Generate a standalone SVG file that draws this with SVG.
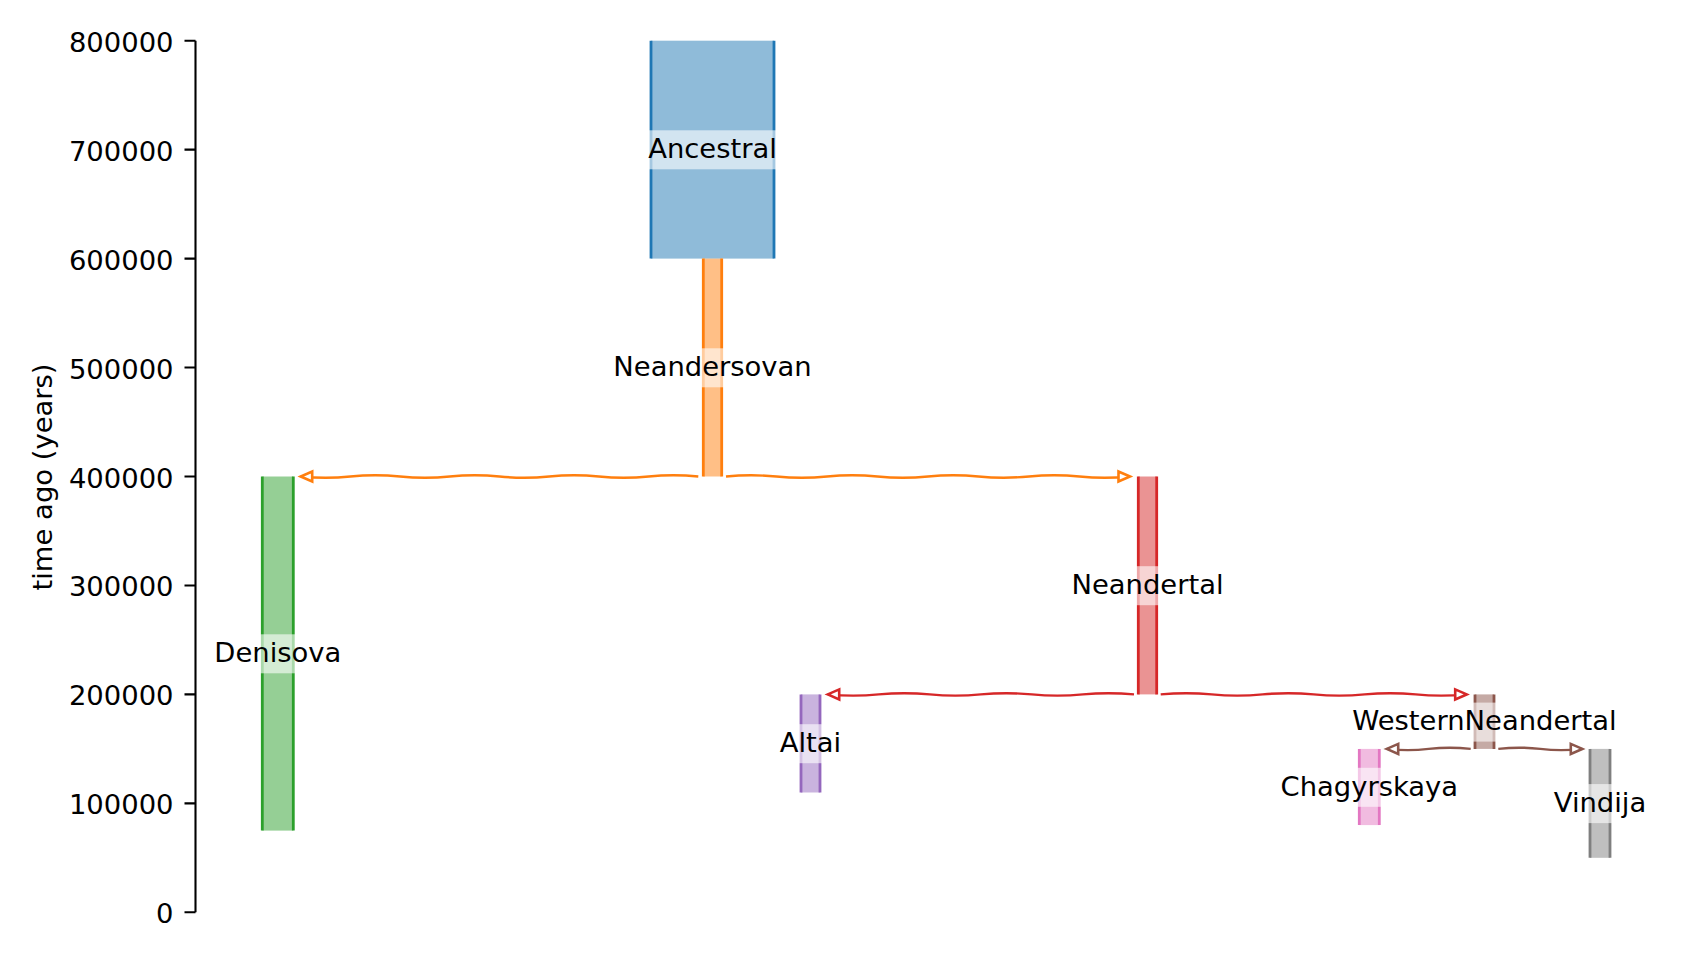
<svg xmlns="http://www.w3.org/2000/svg" width="1705" height="960" viewBox="0 0 1705 960">
<style>
text{font-family:"DejaVu Sans","Liberation Sans",sans-serif;font-size:27.4px;fill:#000}
.tl{text-anchor:end}
.lbl{text-anchor:middle}
.fill{fill-opacity:0.5;stroke:none}
.edge{stroke-width:2.8;fill:none}
.lbg{fill:#fff;fill-opacity:0.6;stroke:none}
.ax{stroke:#000;stroke-width:2.1;fill:none}
.conn{fill:none;stroke-width:2.4}
</style>
<defs>
<marker id="aO" markerUnits="userSpaceOnUse" viewBox="-15 -8 17 16" refX="0" refY="0" markerWidth="17" markerHeight="16" orient="auto" overflow="visible"><path d="M0 0 L-11.5 -5 L-11.5 5 Z" fill="#fff" stroke="#ff7f0e" stroke-width="2.6"/></marker>
<marker id="aR" markerUnits="userSpaceOnUse" viewBox="-15 -8 17 16" refX="0" refY="0" markerWidth="17" markerHeight="16" orient="auto" overflow="visible"><path d="M0 0 L-11.5 -5 L-11.5 5 Z" fill="#fff" stroke="#d62728" stroke-width="2.6"/></marker>
<marker id="aB" markerUnits="userSpaceOnUse" viewBox="-15 -8 17 16" refX="0" refY="0" markerWidth="17" markerHeight="16" orient="auto" overflow="visible"><path d="M0 0 L-11.5 -5 L-11.5 5 Z" fill="#fff" stroke="#8c564b" stroke-width="2.6"/></marker>
</defs>
<rect width="1705" height="960" fill="#fff"/>
<g id="axis">
<line class="ax" x1="195.5" y1="40.7" x2="195.5" y2="912.3"/>
<path class="ax" d="M184.5 40.7H195.5M184.5 149.65H195.5M184.5 258.6H195.5M184.5 367.55H195.5M184.5 476.5H195.5M184.5 585.45H195.5M184.5 694.4H195.5M184.5 803.35H195.5M184.5 912.3H195.5"/>
<text class="tl" x="173.5" y="51.7">800000</text>
<text class="tl" x="173.5" y="160.65">700000</text>
<text class="tl" x="173.5" y="269.6">600000</text>
<text class="tl" x="173.5" y="378.55">500000</text>
<text class="tl" x="173.5" y="487.5">400000</text>
<text class="tl" x="173.5" y="596.45">300000</text>
<text class="tl" x="173.5" y="705.4">200000</text>
<text class="tl" x="173.5" y="814.35">100000</text>
<text class="tl" x="173.5" y="923.3">0</text>
<text class="lbl" transform="translate(51.5,477) rotate(-90)">time ago (years)</text>
</g>
<g id="connectors">
<path class="conn" stroke="#ff7f0e" marker-end="url(#aO)" d="M698.3 476.5 Q673.45 474.1 648.6 476.5 T598.9 476.5 T549.2 476.5 T499.5 476.5 T449.8 476.5 T400.1 476.5 T350.4 476.5 T300.8 476.5 L300.7 476.5"/>
<path class="conn" stroke="#ff7f0e" marker-end="url(#aO)" d="M726 476.5 Q751.25 474.1 776.5 476.5 T827 476.5 T877.5 476.5 T928 476.5 T978.5 476.5 T1029 476.5 T1079.5 476.5 T1129.9 476.5 L1130 476.5"/>
<path class="conn" stroke="#d62728" marker-end="url(#aR)" d="M1134 694.4 Q1108.5 692 1082.95 694.4 T1031.9 694.4 T980.85 694.4 T929.8 694.4 T878.75 694.4 T827.8 694.4 L827.7 694.4"/>
<path class="conn" stroke="#d62728" marker-end="url(#aR)" d="M1160.7 694.4 Q1186.2 692 1211.7 694.4 T1262.7 694.4 T1313.7 694.4 T1364.7 694.4 T1415.7 694.4 T1466.6 694.4 L1466.7 694.4"/>
<path class="conn" stroke="#8c564b" marker-end="url(#aB)" d="M1470.7 748.9 Q1449.7 746.5 1428.7 748.9 T1386.8 748.9 L1386.7 748.9"/>
<path class="conn" stroke="#8c564b" marker-end="url(#aB)" d="M1498.3 748.9 Q1519.3 746.5 1540.3 748.9 T1582.2 748.9 L1582.3 748.9"/>
</g>
<g id="Ancestral">
<rect class="fill" fill="#1f77b4" x="651" y="40.7" width="123" height="217.9"/>
<path class="edge" stroke="#1f77b4" d="M651 40.7V258.6M774 40.7V258.6"/>
<rect class="lbg" x="647" y="130.3" width="131" height="39"/>
<text class="lbl" x="712.5" y="158.3">Ancestral</text>
</g>
<g id="Neandersovan">
<rect class="fill" fill="#ff7f0e" x="703.3" y="258.6" width="18.4" height="217.9"/>
<path class="edge" stroke="#ff7f0e" d="M703.3 258.6V476.5M721.7 258.6V476.5"/>
<rect class="lbg" x="700" y="348.3" width="25" height="39"/>
<text class="lbl" x="712.5" y="376.2">Neandersovan</text>
</g>
<g id="Denisova">
<rect class="fill" fill="#2ca02c" x="262.3" y="476.5" width="31" height="354.1"/>
<path class="edge" stroke="#2ca02c" d="M262.3 476.5V830.6M293.3 476.5V830.6"/>
<rect class="lbg" x="259" y="634.3" width="38" height="39"/>
<text class="lbl" x="277.8" y="662.2">Denisova</text>
</g>
<g id="Neandertal">
<rect class="fill" fill="#d62728" x="1138.3" y="476.5" width="18.4" height="217.9"/>
<path class="edge" stroke="#d62728" d="M1138.3 476.5V694.4M1156.7 476.5V694.4"/>
<rect class="lbg" x="1135" y="566.2" width="25" height="39"/>
<text class="lbl" x="1147.5" y="594.1">Neandertal</text>
</g>
<g id="Altai">
<rect class="fill" fill="#9467bd" x="801" y="694.4" width="19" height="98.1"/>
<path class="edge" stroke="#9467bd" d="M801 694.4V792.5M820 694.4V792.5"/>
<rect class="lbg" x="798" y="724.2" width="25" height="39"/>
<text class="lbl" x="810.5" y="752.1">Altai</text>
</g>
<g id="WesternNeandertal">
<rect class="fill" fill="#8c564b" x="1475" y="694.4" width="19" height="54.5"/>
<path class="edge" stroke="#8c564b" d="M1475 694.4V748.9M1494 694.4V748.9"/>
<rect class="lbg" x="1472" y="702.6" width="25" height="39"/>
<text class="lbl" x="1484.5" y="730.4">WesternNeandertal</text>
</g>
<g id="Chagyrskaya">
<rect class="fill" fill="#e377c2" x="1359.3" y="748.9" width="20" height="76.2"/>
<path class="edge" stroke="#e377c2" d="M1359.3 748.9V825.1M1379.3 748.9V825.1"/>
<rect class="lbg" x="1356" y="767.8" width="26.6" height="39"/>
<text class="lbl" x="1369.3" y="795.7">Chagyrskaya</text>
</g>
<g id="Vindija">
<rect class="fill" fill="#7f7f7f" x="1590" y="748.9" width="20" height="108.9"/>
<path class="edge" stroke="#7f7f7f" d="M1590 748.9V857.8M1610 748.9V857.8"/>
<rect class="lbg" x="1587" y="784.1" width="26" height="39"/>
<text class="lbl" x="1600" y="812.1">Vindija</text>
</g>
</svg>
